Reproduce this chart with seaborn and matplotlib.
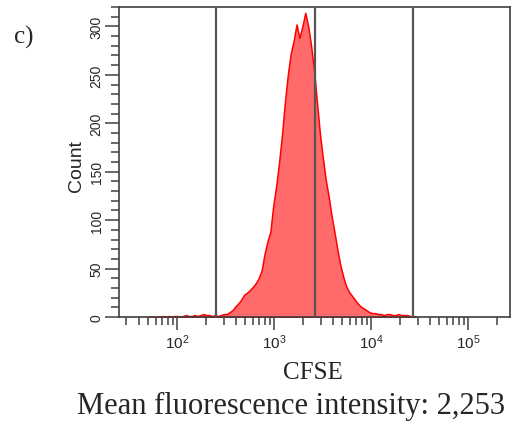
import numpy as np
import pandas as pd
import matplotlib
matplotlib.use("Agg")
import matplotlib.pyplot as plt
import seaborn as sns

# CFSE histogram, counts per bin (bins in log10 units)
log_start = 1.70
bin_width = 0.03
counts = [0, 0, 0, 0, 0, 1, 0, 1, 0, 1,
          1, 0, 1, 2, 1, 1, 2, 1, 2, 3,
          2, 2, 1, 2, 1, 2, 3, 3, 5, 7,
          11, 14, 18, 23, 25, 28, 31, 35, 40, 48,
          65, 78, 88, 115, 135, 160, 188, 222, 250, 272,
          285, 302, 288, 300, 314, 300, 280, 255, 222, 190,
          165, 142, 125, 105, 88, 70, 54, 42, 32, 26,
          22, 18, 14, 11, 9, 7, 5, 4, 4, 3,
          3, 2, 3, 3, 2, 2, 3, 2, 2, 2,
          1, 1, 0]
gates = [2.40, 3.42, 4.43]          # log10 of gate lines
decades = [2, 3, 4, 5]
xlim = (1.40, 5.43)
ylim = (0, 320)

centers = log_start + bin_width * np.arange(len(counts))
df = pd.DataFrame({"log_cfse": centers, "count": counts})

sns.set_style("ticks")
plt.rcParams["mathtext.default"] = "regular"
plt.rcParams["font.family"] = ["Liberation Sans", "DejaVu Sans"]

fig = plt.figure(figsize=(5.26, 4.27), dpi=100)
ax = fig.add_axes([119 / 526, 1 - 318 / 427, 391 / 526, 310 / 427])

sns.histplot(data=df, x="log_cfse", weights="count", binwidth=bin_width,
             binrange=(centers[0] - bin_width / 2, centers[-1] + bin_width / 2),
             element="poly", fill=True, color="#ff6b6b", alpha=1,
             edgecolor="#ff0000", linewidth=1.1, ax=ax)

for g in gates:
    ax.axvline(g, color="#555555", lw=1.6, zorder=3)

ax.set_xlim(*xlim)
ax.set_ylim(*ylim)

# log style ticks on log10 values
ax.set_xticks(decades)
ax.set_xticklabels(["$10^{%d}$" % d for d in decades])
minor = [np.log10(m * 10.0 ** k) for k in range(1, 6) for m in range(2, 10)]
minor = [v for v in minor if xlim[0] < v < xlim[1]]
ax.set_xticks(minor, minor=True)

ax.set_yticks(range(0, 301, 50))
ax.set_yticks(range(0, 321, 10), minor=True)
ax.tick_params(axis="x", which="major", length=9, width=1.1, color="#404040",
               pad=2, labelsize=11)
ax.tick_params(axis="x", which="minor", length=6, width=1.1, color="#404040")
ax.tick_params(axis="y", which="major", length=10, width=1.1, color="#404040",
               pad=1, labelsize=10, labelrotation=90)
ax.tick_params(axis="y", which="minor", length=6, width=1.1, color="#404040")
for lab in ax.get_yticklabels():
    lab.set_va("center")

for s in ax.spines.values():
    s.set_visible(True)
    s.set_color("#404040")
    s.set_linewidth(1.2)

ax.set_xlabel("")
ax.set_ylabel("Count", fontsize=14)
ax.yaxis.set_label_coords(-0.088, 0.49)

serif = ["Liberation Serif", "DejaVu Serif"]
fig.text(313 / 526, 1 - 373 / 427, "CFSE", family=serif, fontsize=18,
         ha="center", va="center")
fig.text(291 / 526, 1 - 406 / 427, "Mean fluorescence intensity: 2,253",
         family=serif, fontsize=22, ha="center", va="center")
fig.text(14 / 526, 1 - 37 / 427, "c)", family=serif, fontsize=18,
         ha="left", va="center")

fig.savefig("out.png", dpi=100)
